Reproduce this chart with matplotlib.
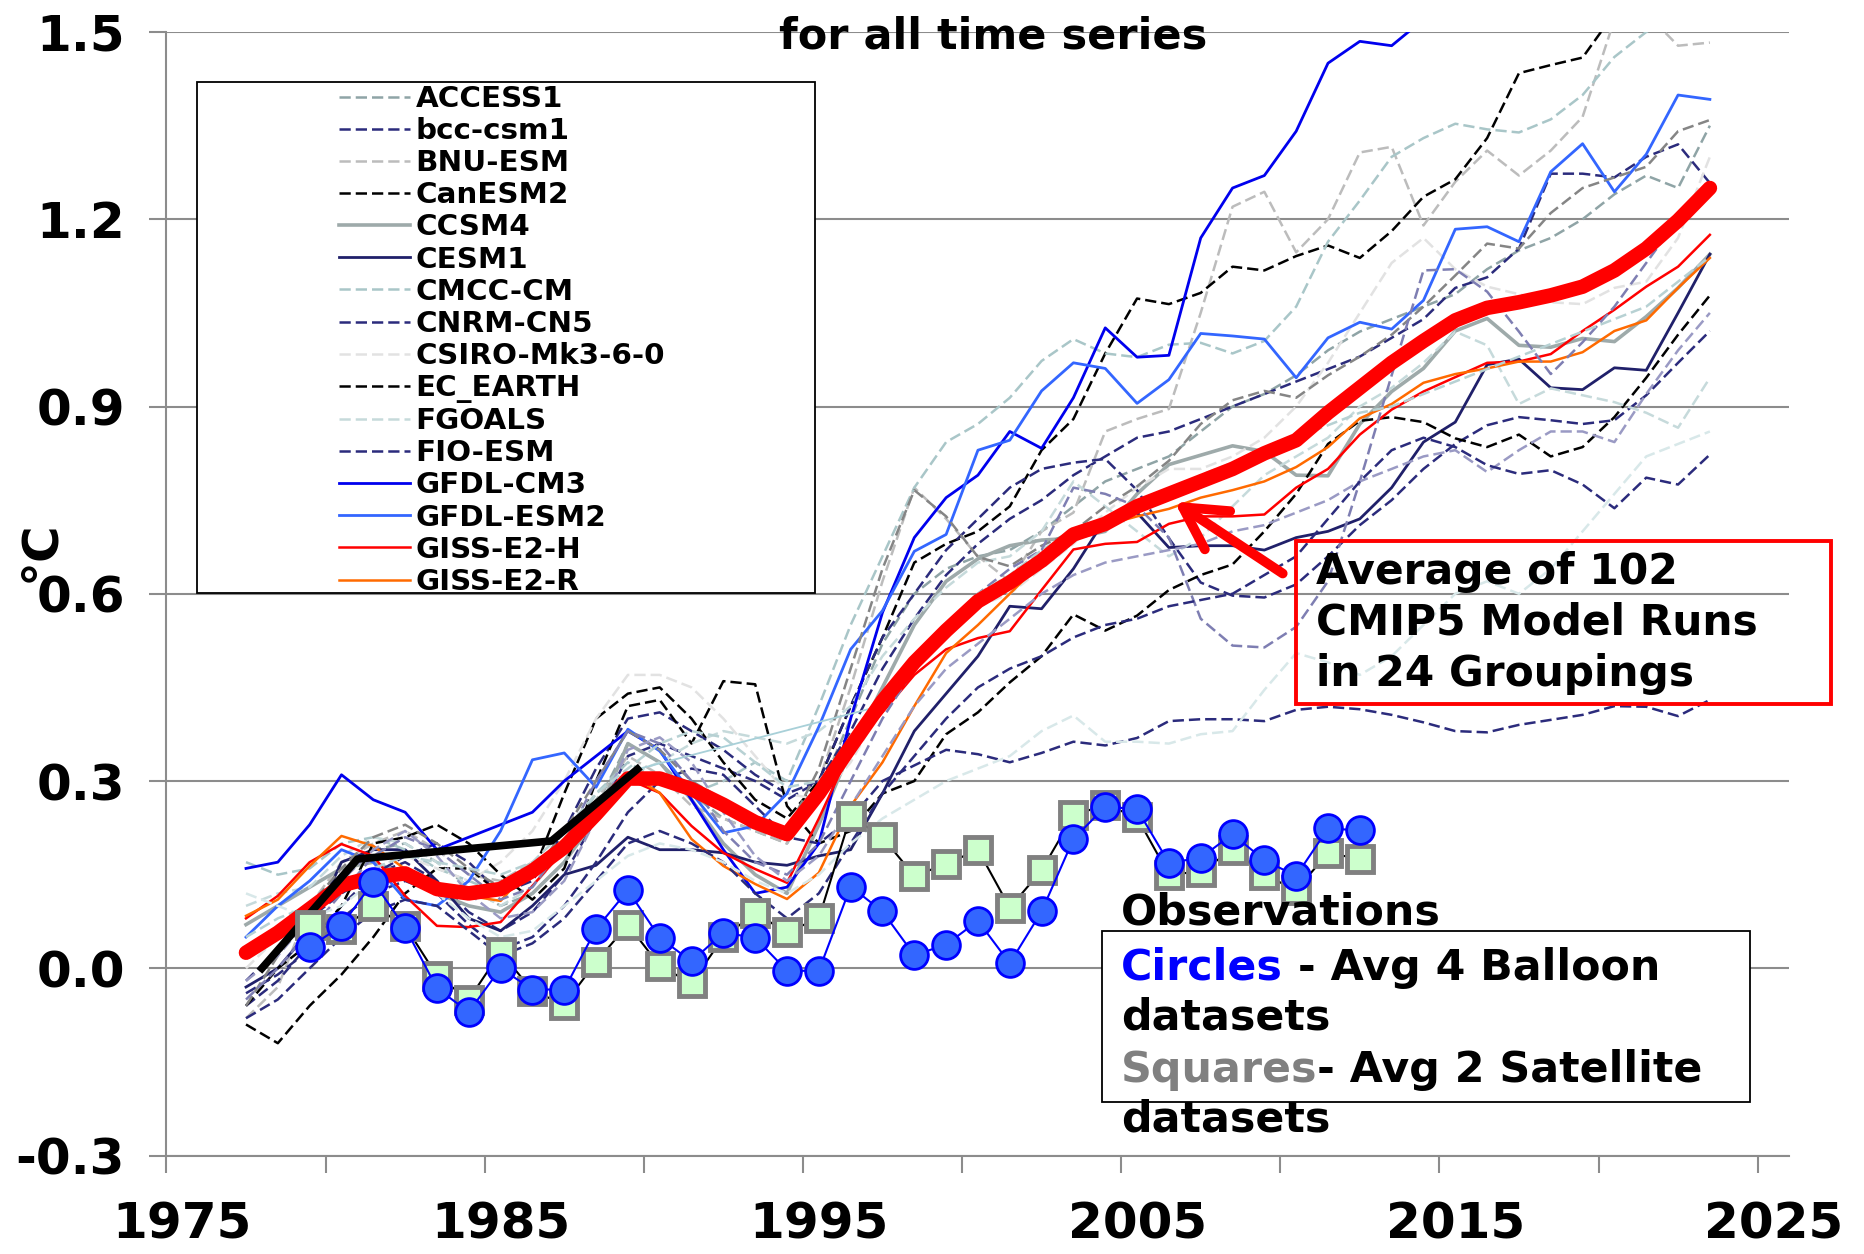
import numpy as np
import matplotlib
matplotlib.use("Agg")
import matplotlib.pyplot as plt
from matplotlib.patches import Rectangle, FancyArrowPatch

plt.rcParams['font.family'] = ['DejaVu Sans']
plt.rcParams['font.weight'] = 'bold'

# model years (5-yr running means) and observation years
years = np.arange(1977, 2024)
obs_years = np.arange(1979, 2013)

model_avg = [0.025, 0.057, 0.095, 0.133, 0.146, 0.152, 0.127, 0.12, 0.127, 0.156,
             0.194, 0.247, 0.304, 0.304, 0.287, 0.262, 0.234, 0.215, 0.28, 0.355,
             0.428, 0.49, 0.541, 0.588, 0.618, 0.653, 0.695, 0.712, 0.74, 0.76,
             0.78, 0.80, 0.825, 0.846, 0.89, 0.93, 0.97, 1.005, 1.038, 1.058,
             1.067, 1.078, 1.092, 1.118, 1.153, 1.198, 1.25]

balloon = [0.034, 0.068, 0.139, 0.065, -0.032, -0.07, 0.0, -0.034, -0.034, 0.063,
           0.125, 0.049, 0.011, 0.057, 0.049, -0.004, -0.004, 0.131, 0.091, 0.021,
           0.038, 0.076, 0.008, 0.091, 0.207, 0.259, 0.255, 0.169, 0.177, 0.215,
           0.173, 0.148, 0.224, 0.221]

satellite = [0.07, 0.063, 0.10, 0.068, -0.012, -0.05, 0.026, -0.036, -0.058, 0.01,
             0.07, 0.004, -0.024, 0.05, 0.088, 0.058, 0.08, 0.244, 0.21, 0.148,
             0.167, 0.19, 0.097, 0.157, 0.245, 0.262, 0.242, 0.15, 0.155, 0.19,
             0.15, 0.125, 0.185, 0.175]

# early black segment and thin light-blue segment
black_x = [1977.5, 1980.5, 1986.6, 1989.3]
black_y = [0.0, 0.175, 0.204, 0.319]
thin_x = [1989.3, 1996.7]
thin_y = [0.319, 0.417]

access1 = [0.02, 0.06, 0.10, 0.15, 0.19, 0.20, 0.17, 0.13, 0.10, 0.12,
           0.17, 0.26, 0.36, 0.33, 0.28, 0.24, 0.22, 0.20, 0.28, 0.40,
           0.52, 0.60, 0.64, 0.66, 0.67, 0.70, 0.74, 0.78, 0.80, 0.82,
           0.86, 0.90, 0.92, 0.95, 0.99, 1.02, 1.04, 1.06, 1.08, 1.12,
           1.15, 1.17, 1.20, 1.24, 1.27, 1.25, 1.35]
bcc_csm1 = [-0.02, 0.03, 0.08, 0.12, 0.15, 0.17, 0.14, 0.09, 0.06, 0.09,
            0.15, 0.24, 0.34, 0.36, 0.34, 0.32, 0.30, 0.27, 0.30, 0.38,
            0.48, 0.56, 0.63, 0.68, 0.72, 0.75, 0.79, 0.82, 0.85, 0.86,
            0.88, 0.90, 0.92, 0.94, 0.96, 0.98, 1.01, 1.04, 1.09, 1.107,
            1.153, 1.273, 1.273, 1.267, 1.30, 1.32, 1.258]
bnu_esm = [-0.08, -0.03, 0.10, 0.17, 0.20, 0.22, 0.19, 0.15, 0.14, 0.17,
           0.20, 0.27, 0.34, 0.31, 0.26, 0.24, 0.22, 0.20, 0.30, 0.45,
           0.62, 0.77, 0.72, 0.66, 0.62, 0.70, 0.73, 0.86, 0.88, 0.896,
           1.05, 1.22, 1.244, 1.147, 1.20, 1.307, 1.316, 1.19, 1.26, 1.31,
           1.27, 1.31, 1.364, 1.52, 1.53, 1.478, 1.483]
canesm2 = [-0.09, -0.12, -0.06, -0.01, 0.05, 0.12, 0.16, 0.16, 0.12, 0.15,
           0.28, 0.40, 0.44, 0.45, 0.40, 0.33, 0.27, 0.24, 0.30, 0.42,
           0.53, 0.65, 0.68, 0.70, 0.74, 0.83, 0.88, 0.985, 1.073, 1.064,
           1.082, 1.124, 1.118, 1.141, 1.158, 1.138, 1.181, 1.236, 1.264, 1.33,
           1.434, 1.447, 1.459, 1.53, 1.57, 1.60, 1.63]
ccsm4 = [0.07, 0.10, 0.13, 0.16, 0.17, 0.15, 0.12, 0.10, 0.09, 0.12,
         0.17, 0.24, 0.36, 0.33, 0.27, 0.20, 0.15, 0.12, 0.23, 0.35,
         0.45, 0.55, 0.62, 0.656, 0.677, 0.686, 0.689, 0.70, 0.76, 0.807,
         0.822, 0.837, 0.828, 0.79, 0.789, 0.872, 0.924, 0.961, 1.021, 1.041,
         0.998, 0.995, 1.009, 1.004, 1.044, 1.09, 1.144]
cesm1 = [-0.03, 0.00, 0.06, 0.17, 0.19, 0.19, 0.14, 0.08, 0.06, 0.10,
         0.15, 0.165, 0.21, 0.19, 0.19, 0.185, 0.17, 0.165, 0.18, 0.19,
         0.28, 0.38, 0.44, 0.50, 0.58, 0.576, 0.64, 0.72, 0.73, 0.674,
         0.677, 0.677, 0.67, 0.69, 0.70, 0.72, 0.77, 0.843, 0.875, 0.967,
         0.976, 0.93, 0.927, 0.962, 0.958, 1.05, 1.144]
cmcc_cm = [0.17, 0.15, 0.16, 0.20, 0.21, 0.19, 0.16, 0.14, 0.12, 0.15,
           0.20, 0.28, 0.33, 0.30, 0.28, 0.30, 0.33, 0.30, 0.42, 0.55,
           0.66, 0.77, 0.843, 0.872, 0.914, 0.973, 1.008, 0.985, 0.979, 0.999,
           1.002, 0.985, 1.005, 1.06, 1.164, 1.23, 1.30, 1.33, 1.353, 1.344,
           1.339, 1.36, 1.399, 1.46, 1.50, 1.52, 1.51]
cnrm_cn5 = [-0.06, -0.02, 0.04, 0.10, 0.15, 0.18, 0.20, 0.17, 0.12, 0.14,
            0.22, 0.32, 0.40, 0.41, 0.38, 0.35, 0.31, 0.28, 0.30, 0.42,
            0.53, 0.60, 0.67, 0.72, 0.77, 0.80, 0.81, 0.816, 0.766, 0.689,
            0.618, 0.597, 0.594, 0.615, 0.66, 0.71, 0.75, 0.80, 0.84, 0.87,
            0.883, 0.878, 0.872, 0.878, 0.918, 0.97, 1.021]
csiro = [0.00, 0.05, 0.09, 0.13, 0.16, 0.18, 0.16, 0.14, 0.17, 0.22,
         0.30, 0.40, 0.47, 0.47, 0.45, 0.40, 0.34, 0.28, 0.27, 0.33,
         0.42, 0.50, 0.55, 0.58, 0.60, 0.64, 0.68, 0.73, 0.77, 0.80,
         0.80, 0.82, 0.85, 0.90, 0.97, 1.05, 1.13, 1.17, 1.12, 1.092,
         1.08, 1.067, 1.064, 1.09, 1.10, 1.17, 1.30]
ec_earth = [-0.06, 0.00, 0.04, 0.10, 0.20, 0.21, 0.23, 0.20, 0.15, 0.11,
            0.16, 0.30, 0.42, 0.43, 0.36, 0.46, 0.455, 0.26, 0.20, 0.22,
            0.28, 0.30, 0.375, 0.41, 0.458, 0.50, 0.567, 0.541, 0.565, 0.606,
            0.63, 0.647, 0.70, 0.76, 0.84, 0.877, 0.883, 0.875, 0.849, 0.835,
            0.855, 0.82, 0.835, 0.883, 0.946, 1.015, 1.078]
fgoals = [0.10, 0.12, 0.13, 0.18, 0.21, 0.20, 0.17, 0.13, 0.10, 0.13,
          0.19, 0.27, 0.31, 0.33, 0.36, 0.38, 0.37, 0.36, 0.38, 0.42,
          0.50, 0.56, 0.61, 0.65, 0.66, 0.70, 0.78, 0.74, 0.70, 0.66,
          0.69, 0.74, 0.79, 0.82, 0.85, 0.90, 0.93, 0.97, 1.02, 0.998,
          0.904, 0.929, 0.918, 0.907, 0.89, 0.866, 0.946]
fio_esm = [-0.04, -0.01, 0.03, 0.08, 0.12, 0.14, 0.12, 0.07, 0.03, 0.05,
           0.10, 0.17, 0.25, 0.30, 0.32, 0.31, 0.26, 0.21, 0.20, 0.24,
           0.30, 0.325, 0.35, 0.343, 0.33, 0.345, 0.363, 0.357, 0.369, 0.396,
           0.399, 0.399, 0.396, 0.414, 0.419, 0.415, 0.406, 0.394, 0.38, 0.378,
           0.39, 0.398, 0.406, 0.42, 0.419, 0.404, 0.43]
gfdl_cm3 = [0.16, 0.17, 0.23, 0.31, 0.27, 0.25, 0.19, 0.21, 0.23, 0.25,
            0.30, 0.34, 0.38, 0.35, 0.27, 0.19, 0.12, 0.13, 0.20, 0.40,
            0.57, 0.69, 0.754, 0.79, 0.86, 0.833, 0.914, 1.026, 0.979, 0.982,
            1.17, 1.25, 1.27, 1.341, 1.45, 1.485, 1.478, 1.52, 1.56, 1.60,
            1.63, 1.66, 1.70, 1.72, 1.76, 1.80, 1.83]
gfdl_esm2 = [0.05, 0.10, 0.14, 0.19, 0.17, 0.11, 0.10, 0.14, 0.22, 0.334,
             0.345, 0.29, 0.383, 0.348, 0.281, 0.217, 0.228, 0.28, 0.387, 0.511,
             0.573, 0.668, 0.695, 0.83, 0.846, 0.925, 0.97, 0.961, 0.905, 0.943,
             1.017, 1.013, 1.008, 0.946, 1.01, 1.035, 1.024, 1.07, 1.184, 1.188,
             1.164, 1.276, 1.321, 1.244, 1.304, 1.399, 1.392]
giss_e2_h = [0.08, 0.116, 0.17, 0.199, 0.18, 0.116, 0.068, 0.066, 0.074, 0.132,
             0.19, 0.25, 0.303, 0.281, 0.228, 0.185, 0.159, 0.137, 0.24, 0.35,
             0.41, 0.47, 0.511, 0.529, 0.54, 0.606, 0.671, 0.68, 0.683, 0.712,
             0.724, 0.724, 0.727, 0.77, 0.80, 0.855, 0.895, 0.924, 0.947, 0.97,
             0.972, 0.984, 1.021, 1.055, 1.092, 1.124, 1.175]
giss_e2_r = [0.084, 0.11, 0.164, 0.212, 0.196, 0.159, 0.121, 0.116, 0.108, 0.164,
             0.207, 0.26, 0.313, 0.281, 0.207, 0.164, 0.135, 0.111, 0.153, 0.26,
             0.33, 0.42, 0.505, 0.55, 0.60, 0.65, 0.69, 0.71, 0.724, 0.736,
             0.754, 0.766, 0.78, 0.803, 0.835, 0.881, 0.904, 0.938, 0.952, 0.961,
             0.972, 0.972, 0.987, 1.021, 1.038, 1.09, 1.138]
# groupings that are not named in the legend box
extra_gray = [-0.06, 0.02, 0.10, 0.16, 0.21, 0.23, 0.20, 0.16, 0.13, 0.15,
              0.22, 0.30, 0.38, 0.35, 0.30, 0.27, 0.24, 0.22, 0.32, 0.48,
              0.64, 0.766, 0.724, 0.659, 0.644, 0.677, 0.70, 0.74, 0.772, 0.813,
              0.872, 0.91, 0.925, 0.914, 0.95, 0.98, 1.015, 1.06, 1.11, 1.161,
              1.153, 1.21, 1.25, 1.267, 1.284, 1.341, 1.359]
extra_purple1 = [-0.05, 0.00, 0.06, 0.12, 0.18, 0.21, 0.19, 0.15, 0.11, 0.13,
                 0.20, 0.30, 0.38, 0.36, 0.30, 0.22, 0.17, 0.15, 0.20, 0.30,
                 0.40, 0.48, 0.55, 0.60, 0.64, 0.67, 0.77, 0.76, 0.74, 0.69,
                 0.56, 0.517, 0.514, 0.547, 0.62, 0.78, 0.95, 1.118, 1.12, 1.084,
                 1.02, 0.952, 1.003, 1.06, 1.13, 1.20, 1.26]
extra_purple2 = [-0.02, 0.02, 0.08, 0.14, 0.19, 0.22, 0.18, 0.12, 0.08, 0.09,
                 0.14, 0.24, 0.35, 0.37, 0.33, 0.25, 0.18, 0.14, 0.18, 0.26,
                 0.34, 0.42, 0.48, 0.52, 0.56, 0.60, 0.63, 0.65, 0.66, 0.67,
                 0.68, 0.70, 0.71, 0.73, 0.75, 0.78, 0.80, 0.82, 0.83, 0.795,
                 0.83, 0.86, 0.86, 0.843, 0.92, 0.99, 1.05]
extra_navy = [-0.08, -0.05, 0.00, 0.05, 0.09, 0.11, 0.10, 0.06, 0.02, 0.04,
              0.08, 0.14, 0.20, 0.22, 0.20, 0.17, 0.12, 0.08, 0.12, 0.20,
              0.28, 0.34, 0.40, 0.45, 0.48, 0.50, 0.53, 0.55, 0.56, 0.58,
              0.59, 0.60, 0.63, 0.66, 0.72, 0.78, 0.83, 0.85, 0.835, 0.806,
              0.792, 0.798, 0.775, 0.737, 0.786, 0.775, 0.823]
extra_pale = [0.12, 0.10, 0.08, 0.10, 0.14, 0.15, 0.12, 0.08, 0.05, 0.06,
              0.10, 0.14, 0.18, 0.20, 0.19, 0.17, 0.14, 0.12, 0.15, 0.20,
              0.24, 0.27, 0.30, 0.32, 0.34, 0.38, 0.405, 0.363, 0.363, 0.36,
              0.375, 0.38, 0.446, 0.505, 0.49, 0.47, 0.50, 0.55, 0.60, 0.62,
              0.60, 0.64, 0.70, 0.76, 0.82, 0.84, 0.86]
extra_teal = [0.05, 0.08, 0.10, 0.13, 0.16, 0.18, 0.17, 0.16, 0.15, 0.17,
              0.22, 0.28, 0.32, 0.36, 0.38, 0.37, 0.33, 0.29, 0.30, 0.36,
              0.42, 0.48, 0.54, 0.60, 0.63, 0.67, 0.70, 0.72, 0.74, 0.76,
              0.79, 0.81, 0.83, 0.85, 0.87, 0.89, 0.90, 0.92, 0.94, 0.96,
              0.98, 1.00, 1.02, 1.04, 1.06, 1.10, 1.14]

navy = '#2b2b7c'
dash = (4.5, 2)
# (label, values, colour, dashed, linewidth)
model_styles = [
    ('ACCESS1', access1, '#8fa4a6', True, 1.8),
    ('bcc-csm1', bcc_csm1, navy, True, 1.8),
    ('BNU-ESM', bnu_esm, '#bcbcbc', True, 1.8),
    ('CanESM2', canesm2, 'black', True, 1.8),
    ('CCSM4', ccsm4, '#9eaaaa', False, 2.6),
    ('CESM1', cesm1, '#20206a', False, 2.0),
    ('CMCC-CM', cmcc_cm, '#a9c6c8', True, 1.8),
    ('CNRM-CN5', cnrm_cn5, navy, True, 1.8),
    ('CSIRO-Mk3-6-0', csiro, '#e2e2e2', True, 1.8),
    ('EC_EARTH', ec_earth, 'black', True, 1.8),
    ('FGOALS', fgoals, '#c6dadb', True, 1.8),
    ('FIO-ESM', fio_esm, navy, True, 1.8),
    ('GFDL-CM3', gfdl_cm3, '#0000ee', False, 2.0),
    ('GFDL-ESM2', gfdl_esm2, '#3366ff', False, 2.0),
    ('GISS-E2-H', giss_e2_h, '#ff0000', False, 1.8),
    ('GISS-E2-R', giss_e2_r, '#ff6a00', False, 1.8),
    ('_gray', extra_gray, '#858585', True, 1.8),
    ('_purple1', extra_purple1, '#7e7eb2', True, 1.8),
    ('_purple2', extra_purple2, '#9a9ac4', True, 1.8),
    ('_navy', extra_navy, navy, True, 1.8),
    ('_pale', extra_pale, '#d8e8e9', True, 1.8),
    ('_teal', extra_teal, '#b7d1d3', True, 1.8),
]

fig = plt.figure(figsize=(18.64, 12.54), dpi=100)
ax = fig.add_axes([0.0893, 0.0785, 0.8707, 0.896])

handles = []
for name, vals, col, dashed, lw in model_styles:
    ln, = ax.plot(years, vals, color=col, lw=lw, zorder=2, label=name)
    if dashed:
        ln.set_dashes(dash)
    if not name.startswith('_'):
        handles.append(ln)

ax.plot(years, model_avg, color='#ff0000', lw=10.5, solid_capstyle='round', zorder=4)
ax.plot(black_x, black_y, color='black', lw=5.5, zorder=5)
ax.plot(thin_x, thin_y, color='#a8d0d8', lw=1.3, zorder=3)

ax.plot(obs_years, satellite, color='black', lw=1.5, marker='s', ms=19,
        mfc='#ccffcc', mec='#808080', mew=3.5, zorder=6)
ax.plot(obs_years, balloon, color='#0000ff', lw=1.5, marker='o', ms=20,
        mfc='#3366ff', mec='#0000ff', mew=2, zorder=7)

# axes styling
ax.set_xlim(1974.5, 2025.5)
ax.set_ylim(-0.3, 1.5)
for s in ['top', 'right']:
    ax.spines[s].set_visible(False)
for s in ['left', 'bottom']:
    ax.spines[s].set_color('#8c8c8c')
    ax.spines[s].set_linewidth(1.5)

yt = [-0.3, 0.0, 0.3, 0.6, 0.9, 1.2, 1.5]
ax.set_yticks(yt)
ax.set_yticklabels(['-0.3', '0.0', '0.3', '0.6', '0.9', '1.2', '1.5'])
ax.yaxis.grid(True, color='#8c8c8c', lw=1.5)
ax.set_axisbelow(True)
ax.tick_params(axis='y', direction='out', length=12, width=1.5, color='#8c8c8c',
               pad=18, labelsize=36)

ax.set_xticks([1975, 1985, 1995, 2005, 2015, 2025])
ax.set_xticklabels(['1975', '1985', '1995', '2005', '2015', '2025'])
ax.set_xticks(np.arange(1974.5, 2025, 5), minor=True)
ax.tick_params(axis='x', which='major', length=0, pad=32, labelsize=36)
ax.tick_params(axis='x', which='minor', direction='out', length=12, width=1.5,
               color='#8c8c8c')
for lab in ax.get_xticklabels() + ax.get_yticklabels():
    lab.set_fontweight('bold')

# model legend box
ax.add_patch(Rectangle((0.019, 0.5004), 0.3803, 0.4551, transform=ax.transAxes,
                       facecolor='white', edgecolor='black', lw=1.3, zorder=8))
leg = ax.legend(handles=handles, loc='upper left',
                bbox_to_anchor=(339 / 1864, 1 - 85 / 1254),
                bbox_transform=fig.transFigure, frameon=False,
                prop={'size': 21.2, 'weight': 'bold'}, handlelength=2.4,
                handletextpad=0.2, labelspacing=0.14, borderpad=0, borderaxespad=0)
leg.set_zorder(9)

# observations box
ax.add_patch(Rectangle((0.5766, 0.0476), 0.3992, 0.1524, transform=ax.transAxes,
                       facecolor='white', edgecolor='black', lw=1.3, zorder=8))
tk = dict(transform=ax.transAxes, fontsize=30.8, fontweight='bold', va='center',
          ha='left', zorder=10)
ax.text(0.588, 0.2159, 'Observations', **tk)
t1 = ax.text(0.588, 0.1672, 'Circles', color='#0000ff', **tk)
ax.annotate(' - Avg 4 Balloon', xy=(1, 0), xycoords=t1, va='bottom', ha='left',
            fontsize=30.8, fontweight='bold', zorder=10)
ax.text(0.588, 0.1228, 'datasets', **tk)
t2 = ax.text(0.588, 0.0762, 'Squares', color='#808080', **tk)
ax.annotate('- Avg 2 Satellite', xy=(1, 0), xycoords=t2, va='bottom', ha='left',
            fontsize=30.8, fontweight='bold', zorder=10)
ax.text(0.588, 0.0317, 'datasets', **tk)

# red annotation box and arrow
ax.add_patch(Rectangle((0.696, 0.402), 0.3296, 0.145, transform=ax.transAxes,
                       facecolor='none', edgecolor='#ff0000', lw=2.8, zorder=10,
                       clip_on=False))
for yy, s in zip([0.5196, 0.474, 0.4286],
                 ['Average of 102', 'CMIP5 Model Runs', 'in 24 Groupings']):
    ax.text(0.7084, yy, s, transform=ax.transAxes, fontsize=30.5, fontweight='bold',
            va='center', ha='left', zorder=11)
ax.add_patch(FancyArrowPatch((2009.65, 0.63), (2006.1, 0.75),
                             arrowstyle='->,head_length=1.0,head_width=0.55',
                             mutation_scale=30, lw=7, color='#ff0000', zorder=10))

fig.text(0.533, 0.971, 'for all time series', ha='center', va='center',
         fontsize=31, fontweight='bold')
fig.text(40 / 1864, 1 - 551 / 1254, '°C', rotation=90, ha='center', va='center',
         fontsize=36, fontweight='bold')

fig.savefig('out.png', dpi=100)
